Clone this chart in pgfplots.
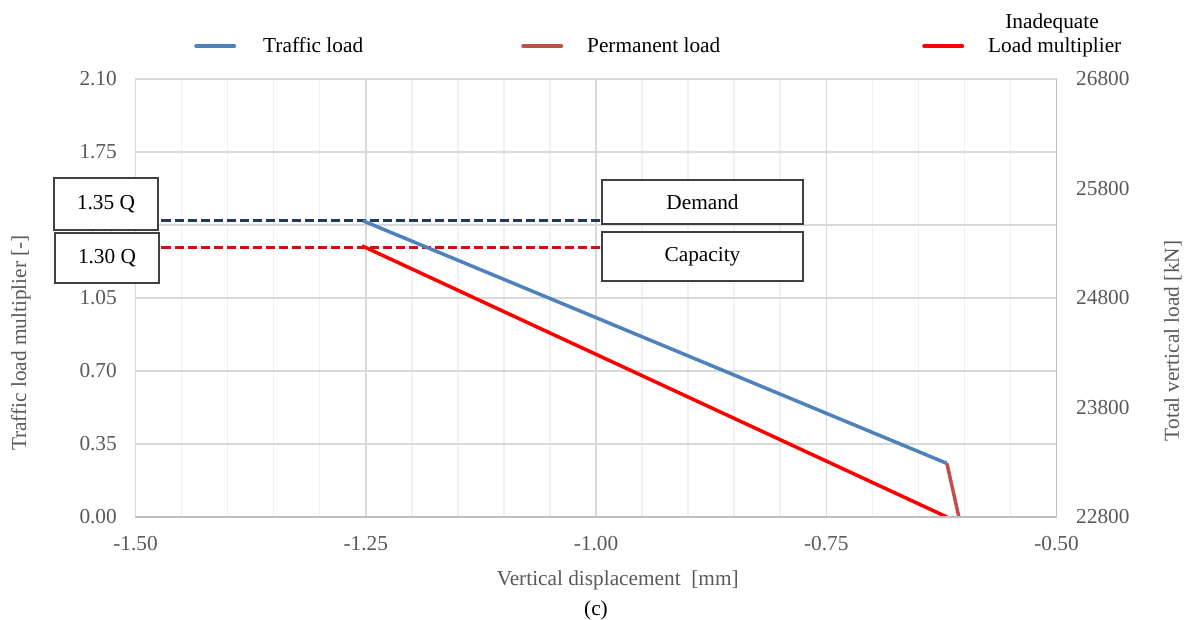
\documentclass[border=0pt]{standalone}
\usepackage{fontspec}
\setmainfont{Liberation Serif}
\usepackage{pgfplots}
\pgfplotsset{compat=1.18}
\definecolor{gridmaj}{HTML}{D9D9D9}
\definecolor{gridmin}{HTML}{F0F0F0}
\definecolor{axgray}{HTML}{BFBFBF}
\definecolor{ticktext}{HTML}{595959}
\definecolor{boxgray}{HTML}{404040}
\definecolor{trafficblue}{HTML}{4F81BD}
\definecolor{permbrown}{HTML}{C0504D}
\definecolor{navy}{HTML}{1F3864}
\definecolor{dashred}{HTML}{D01010}
\begin{document}
\begin{tikzpicture}[font=\fontsize{21.3}{25}\selectfont, x=1pt, y=1pt]
\path[use as bounding box] (-135.5,-102) rectangle (1057.5,517);
\begin{axis}[
  at={(0,0)}, anchor=south west,
  scale only axis, width=921pt, height=438pt,
  xmin=-1.5, xmax=-0.5, ymin=0, ymax=2.1,
  xtick={-1.5,-1.25,-1,-0.75,-0.5},
  minor xtick={-1.45,-1.4,-1.35,-1.3,-1.2,-1.15,-1.1,-1.05,-0.95,-0.9,-0.85,-0.8,-0.7,-0.65,-0.6,-0.55},
  ytick={0,0.35,0.7,1.05,1.4,1.75,2.1},
  xmajorgrids, xminorgrids, ymajorgrids,
  major grid style={gridmaj, line width=1.5pt},
  minor grid style={gridmin, line width=1.5pt},
  major tick length=0pt, minor tick length=0pt,
  axis line style={draw=none},
  /pgf/number format/fixed, /pgf/number format/fixed zerofill, /pgf/number format/precision=2,
  /pgf/number format/assume math mode=true,
  tick label style={text=ticktext, inner sep=0pt},
  xticklabel style={anchor=north, yshift=-19pt},
  yticklabel style={anchor=east, xshift=-18.5pt},
  legend style={at={(axis description cs:0.0635,1.0753)}, anchor=west, draw=none, fill=none, inner sep=0pt,
    font=\fontsize{21.3}{25}\selectfont, nodes={inner sep=0pt, text=black}, /tikz/column sep=0pt},
  legend cell align=left,
  legend columns=3,
  legend image code/.code={\draw[#1, line width=4pt, line cap=round] (0pt,0pt) -- (38pt,0pt);},
]
\addplot[navy, line width=3pt, dash pattern=on 9pt off 4pt, forget plot] coordinates {(-1.5,1.42) (-0.99,1.42)};
\addplot[dashred, line width=2.5pt, dash pattern=on 9pt off 4pt, forget plot] coordinates {(-1.5,1.293) (-0.99,1.293)};
\addplot[trafficblue, line width=3.5pt] coordinates {(-1.253,1.42) (-0.619,0.257)};
\addlegendentry{\makebox[285pt][l]{\hspace{27pt}Traffic load}}
\addplot[permbrown, line width=3.5pt] coordinates {(-0.619,0.257) (-0.606,0)};
\addlegendentry{\makebox[359pt][l]{\hspace{24pt}Permanent load}}
\addplot[red, line width=3.5pt] coordinates {(-1.254,1.30) (-0.619,0)};
\addlegendentry{\hspace{24pt}Load multiplier}
\draw[axgray, line width=2pt] (axis cs:-1.5,0) -- (axis cs:-0.5,0);
\end{axis}
\begin{axis}[
  at={(0,0)}, anchor=south west,
  scale only axis, width=921pt, height=438pt,
  xmin=-1.5, xmax=-0.5, ymin=22800, ymax=26800,
  ytick={22800,23800,24800,25800,26800},
  scaled y ticks=false,
  axis y line*=right, axis x line=none,
  y axis line style={axgray, line width=1.5pt, -},
  major tick length=0pt,
  /pgf/number format/fixed, /pgf/number format/precision=0,
  /pgf/number format/set thousands separator={},
  /pgf/number format/assume math mode=true,
  yticklabel style={text=ticktext, inner sep=0pt, anchor=west, xshift=19.5pt},
]
\end{axis}
\node[text=ticktext, rotate=90] at (-114.5,174) {Traffic load multiplier [-]};
\node[text=ticktext, rotate=90] at (1037.5,176) {Total vertical load [kN]};
\node[text=ticktext] at (482.2,-63) {Vertical displacement\ \ [mm]};
\node at (460.5,-93) {(c)};
\node at (916.5,494) {Inadequate};
\node[draw=boxgray, fill=white, line width=1.5pt, minimum width=104pt, minimum height=52pt, inner sep=0pt] at (-29.5,313) {1.35 Q};
\node[draw=boxgray, fill=white, line width=1.5pt, minimum width=104pt, minimum height=50pt, inner sep=0pt] at (-28.5,259) {1.30 Q};
\node[draw=boxgray, fill=white, line width=1.5pt, minimum width=201pt, minimum height=44pt, inner sep=0pt] at (567,315) {Demand};
\node[draw=boxgray, fill=white, line width=1.5pt, minimum width=201pt, minimum height=49pt, inner sep=0pt] at (567,260.5) {Capacity};
\end{tikzpicture}
\end{document}
